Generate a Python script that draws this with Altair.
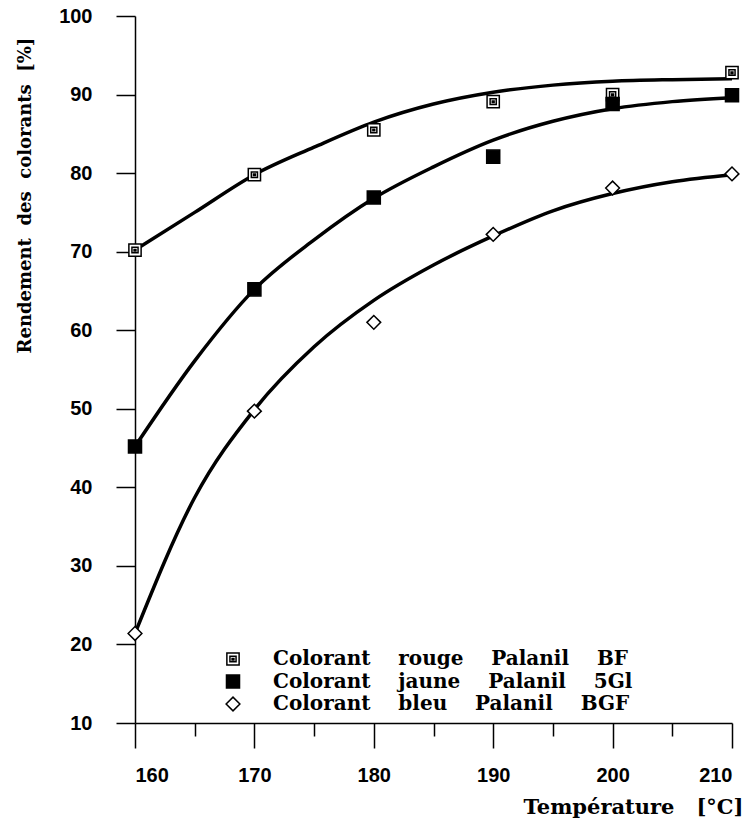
import altair as alt
import pandas as pd

# ---- data ----
temps = [160, 170, 180, 190, 200, 210]
series_names = [
    "Colorant rouge Palanil BF",
    "Colorant jaune Palanil 5Gl",
    "Colorant bleu Palanil BGF",
]
rouge_pts = [70.2, 79.8, 85.5, 89.1, 90.0, 92.8]
jaune_pts = [45.2, 65.2, 76.9, 82.1, 88.8, 89.9]
bleu_pts = [21.4, 49.7, 61.0, 72.2, 78.1, 79.9]

# fitted curves every 5 °C
curve_temps = [160, 165, 170, 175, 180, 185, 190, 195, 200, 205, 210]
rouge_curve = [70.2, 75.0, 79.8, 83.3, 86.5, 88.8, 90.3, 91.2, 91.7, 91.9, 92.0]
jaune_curve = [45.2, 56.1, 65.2, 71.5, 76.8, 80.8, 84.2, 86.6, 88.2, 89.1, 89.6]
bleu_curve = [21.4, 38.7, 49.9, 57.9, 63.8, 68.3, 72.0, 75.2, 77.4, 78.9, 79.8]

x_ticks = [160, 165, 170, 175, 180, 185, 190, 195, 200, 205, 210]
y_ticks = [10, 15, 20, 25, 30, 35, 40, 45, 50, 55, 60, 65, 70, 75, 80, 85, 90, 95, 100]

pts = pd.DataFrame({
    "T": temps * 3,
    "R": rouge_pts + jaune_pts + bleu_pts,
    "serie": [series_names[0]] * 6 + [series_names[1]] * 6 + [series_names[2]] * 6,
})
curves = pd.DataFrame({
    "T": curve_temps * 3,
    "R": rouge_curve + jaune_curve + bleu_curve,
    "serie": [series_names[0]] * 11 + [series_names[1]] * 11 + [series_names[2]] * 11,
})

NB = "\u00a0"
SERIF = "DejaVu Serif"
SANS = "Liberation Sans"

x_enc = alt.X(
    "T:Q",
    scale=alt.Scale(domain=[160, 210], nice=False, zero=False),
    axis=alt.Axis(
        values=x_ticks,
        labelExpr="datum.value % 10 === 0 ? datum.label : ''",
        tickSize={"condition": {"test": "datum.value % 10 !== 0", "value": 13}, "value": 25},
        labelPadding=17,
        labelFont=SANS, labelFontWeight="bold", labelFontSize=20, labelColor="black",
        title="Température" + NB * 3 + "[°C]",
        titleFont=SERIF, titleFontWeight="bold", titleFontSize=21, titleColor="black",
        titleAlign="right", titleBaseline="middle", titleX=608, titleY=84,
        grid=False, domainColor="black", domainWidth=1.5, tickColor="black", tickWidth=1.5,
    ),
)
y_enc = alt.Y(
    "R:Q",
    scale=alt.Scale(domain=[10, 100], nice=False, zero=False),
    axis=alt.Axis(
        values=y_ticks,
        labelExpr="datum.value % 10 === 0 ? datum.label : ''",
        tickSize={"condition": {"test": "datum.value % 10 !== 0", "value": 7}, "value": 19},
        labelPadding=24,
        labelFont=SANS, labelFontWeight="bold", labelFontSize=20, labelColor="black",
        title="Rendement" + NB * 2 + "des" + NB * 2 + "colorants" + NB * 2 + "[%]",
        titleFont=SERIF, titleFontWeight="bold", titleFontSize=18, titleColor="black",
        titleAngle=-90, titleAlign="left", titleBaseline="middle", titleX=-110, titleY=337,
        grid=False, domainColor="black", domainWidth=1.5, tickColor="black", tickWidth=1.5,
    ),
)

lines = alt.Chart(curves).mark_line(
    color="black", strokeWidth=3.5, interpolate="monotone"
).encode(x=x_enc, y=y_enc, detail="serie:N")

rouge_shape = ("M-1,-1L1,-1L1,1L-1,1Z "
               "M-0.5,-0.45L0.5,-0.45L0.5,0.45L-0.5,0.45Z "
               "M-0.15,-0.1L0.15,-0.1L0.15,0.15L-0.15,0.15Z")

legend = alt.Legend(
    orient="none", legendX=88, legendY=633, title=None, padding=0,
    labelFont=SERIF, labelFontWeight="bold", labelFontSize=20, labelColor="black",
    labelLimit=0, labelOffset=30, rowPadding=2.5,
    labelExpr="replace(datum.label, regexp(' ', 'g'), '" + NB * 4 + "')",
    symbolStrokeWidth=1.5, symbolOpacity=1,
)

points = alt.Chart(pts).mark_point(
    filled=True, strokeWidth=1.5, opacity=1
).encode(
    x="T:Q",
    y="R:Q",
    shape=alt.Shape("serie:N", scale=alt.Scale(domain=series_names,
                    range=[rouge_shape, "square", "diamond"]), legend=legend),
    fill=alt.Fill("serie:N", scale=alt.Scale(domain=series_names,
                  range=["white", "black", "white"]), legend=legend),
    stroke=alt.Stroke("serie:N", scale=alt.Scale(domain=series_names,
                      range=["black", "black", "black"]), legend=legend),
    size=alt.Size("serie:N", scale=alt.Scale(domain=series_names,
                  range=[150, 190, 110]), legend=legend),
)

chart = alt.layer(lines, points).properties(
    width=597, height=707,
    autosize=alt.AutoSizeParams(type="none"),
    padding={"left": 135, "top": 16, "right": 23, "bottom": 111},
    background="white",
).configure_view(stroke=None)

chart.save("out.html", embed_options={"renderer": "svg", "actions": False})
